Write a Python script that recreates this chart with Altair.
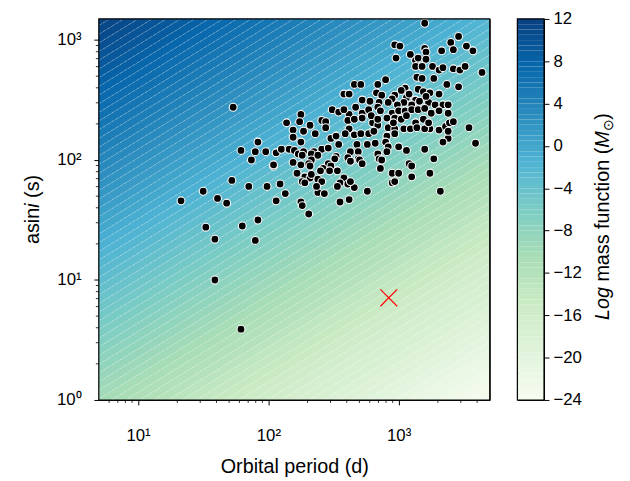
import altair as alt
import numpy as np
import pandas as pd

# log10 of orbital period (d) and log10 of a sin i (s)
log_period = [1.73,1.92,1.79,1.90,1.98,1.87,2.04,1.72,1.85,1.99,1.50,1.33,1.61,1.68,1.52,1.59,1.80,1.92,1.90,1.59,1.79,
 2.14,2.19,2.19,2.06,2.10,2.16,2.20,2.19,2.22,2.09,2.13,2.06,
 2.66,2.71,2.58,2.62,2.84,2.83,2.87,2.72,2.78,2.85,2.49,2.54,2.67,2.62,2.72,2.77,2.84,2.86,2.25,2.24,2.32,2.41,2.44,2.44,
 2.61,2.66,2.72,2.80,2.84,2.27,2.36,2.62,2.59,2.66,2.71,2.77,2.81,2.25,2.48,2.52,2.54,2.68,2.76,2.82,2.23,2.27,2.26,2.35,
 2.41,2.46,2.33,2.38,2.63,2.69,2.52,2.51,2.61,2.69,2.84,2.85,2.04,2.25,2.33,2.31,2.32,2.46,2.48,2.42,2.63,2.70,2.72,2.53,
 2.47,2.28,2.32,2.33,2.26,2.28,2.38,2.41,2.58,2.55,2.61,2.53,2.66,2.76,2.38,2.43,2.58,2.79,2.84,2.37,2.63,2.25,2.26,2.31,
 2.55,2.62,2.40,2.87,2.86,
 3.20,3.46,3.40,3.42,3.52,3.57,2.97,3.01,2.98,3.20,3.21,3.33,3.09,3.13,3.15,3.21,3.13,3.18,3.26,3.31,3.34,3.42,3.47,3.51,
 3.64,2.90,3.14,3.18,3.27,3.37,3.46,3.05,3.02,2.97,2.95,2.92,3.15,3.19,3.24,3.31,3.06,3.13,3.16,3.04,3.10,3.23,3.28,3.34,
 3.38,2.99,3.21,3.08,2.95,3.00,3.05,3.10,3.15,3.20,3.25,2.91,2.97,3.02,3.06,3.13,3.19,3.24,2.92,2.97,3.04,3.09,3.14,3.20,
 3.31,3.36,3.39,3.42,3.54,2.91,2.97,2.90,2.92,2.91,3.38,3.34,3.00,3.06,3.20,3.59,3.27,3.08,3.10,2.95,3.00,2.95,2.97,3.10,
 3.24,3.32,3.31,3.38,2.96,3.23,3.38]
log_asini = [2.44,2.15,2.08,2.07,2.07,2.00,1.95,1.83,1.78,1.78,1.74,1.66,1.68,1.64,1.44,1.34,1.45,1.50,1.33,1.00,0.59,
 2.31,2.25,2.19,2.06,2.09,2.09,2.08,1.98,1.89,1.80,1.72,1.66,
 2.63,2.63,2.55,2.55,2.63,2.56,2.54,2.50,2.49,2.48,2.42,2.40,2.44,2.38,2.39,2.42,2.44,2.41,2.38,2.32,2.29,2.33,2.32,2.27,
 2.33,2.34,2.35,2.31,2.29,2.24,2.22,2.26,2.22,2.21,2.22,2.22,2.24,2.15,2.18,2.20,2.13,2.13,2.13,2.14,2.05,2.07,2.04,2.07,
 2.09,2.10,2.05,2.04,2.07,2.07,2.03,2.01,2.02,2.01,2.05,2.01,1.96,1.96,2.00,1.97,1.95,1.97,1.95,1.93,1.99,2.00,1.97,1.91,
 1.91,1.86,1.85,1.88,1.82,1.81,1.84,1.82,1.85,1.81,1.80,1.78,1.77,1.74,1.73,1.72,2.42,2.37,2.34,1.78,1.82,1.65,1.62,1.55,
 1.65,1.67,1.91,2.00,1.93,
 3.14,3.03,2.98,2.92,2.95,2.91,2.96,2.95,2.85,2.93,2.90,2.91,2.88,2.83,2.85,2.84,2.78,2.78,2.78,2.75,2.77,2.76,2.75,2.78,
 2.73,2.67,2.69,2.68,2.68,2.63,2.61,2.60,2.58,2.54,2.51,2.48,2.59,2.57,2.56,2.55,2.52,2.50,2.49,2.48,2.46,2.48,2.46,2.46,
 2.46,2.46,2.53,2.55,2.39,2.41,2.41,2.42,2.42,2.43,2.39,2.35,2.35,2.34,2.37,2.31,2.34,2.26,2.27,2.26,2.26,2.26,2.27,2.26,
 2.25,2.28,2.31,2.32,2.27,2.20,2.22,2.15,2.11,2.07,2.18,2.15,2.11,2.08,2.09,2.14,2.01,1.97,1.95,1.89,1.89,1.81,1.82,1.86,
 1.89,1.74,2.41,2.39,2.31,2.31,2.24]

marker_period = [840.0]
marker_asini = [7.1]

x_major = [10, 100, 1000]
y_major = [1, 10, 100, 1000]
x_minor = [6, 7, 8, 9, 20, 30, 40, 50, 60, 70, 80, 90, 200, 300, 400, 500, 600, 700, 800, 900, 2000, 3000, 4000]
y_minor = [2, 3, 4, 5, 6, 7, 8, 9, 20, 30, 40, 50, 60, 70, 80, 90, 200, 300, 400, 500, 600, 700, 800, 900]
cbar_ticks = [-24, -20, -16, -12, -8, -4, 0, 4, 8, 12]
levels = [round(-24 + 0.5 * i, 1) for i in range(73)]
gnbu = ["#f7fcf0", "#e0f3db", "#ccebc5", "#a8ddb5", "#7bccc4", "#4eb3d3", "#2b8cbe", "#0868ac", "#084081"]

P_MIN, P_MAX = 5, 5000
X_MIN, X_MAX = 1, 1500
W, H = 396, 386
CBW = 27
FONT = "Liberation Sans"
TS = 20  # title font size

# natural log of the mass function constant: 4 pi^2 c^3 / (G Msun (86400 s/d)^2)
LN_C = np.log(4 * np.pi ** 2 * 2.99792458e8 ** 3 / (1.32712440018e20 * 86400.0 ** 2))


def bound(level, period):
    return float(np.exp((level - LN_C + 2 * np.log(period)) / 3.0))


band_rows = []
for k in range(len(levels) - 1):
    for p in (P_MIN, P_MAX):
        band_rows.append({"P": p, "lo": bound(levels[k], p), "hi": bound(levels[k + 1], p),
                          "mid": (levels[k] + levels[k + 1]) / 2, "band": k})
bands = pd.DataFrame(band_rows)

line_rows = []
for k, lv in enumerate(levels[1:-1]):
    for p in (P_MIN, P_MAX):
        line_rows.append({"P": p, "x": bound(lv, p), "lev": k})
lines = pd.DataFrame(line_rows)

pts = pd.DataFrame({"P": [10 ** v for v in log_period], "x": [10 ** v for v in log_asini]})
marker = pd.DataFrame({"P": marker_period, "x": marker_asini})
cb = pd.DataFrame({"lo": levels[:-1], "hi": levels[1:],
                   "mid": [(a + b) / 2 for a, b in zip(levels[:-1], levels[1:])]})
xm = pd.DataFrame({"v": x_minor})
ym = pd.DataFrame({"v": y_minor})
one = pd.DataFrame({"a": [0]})

color_scale = alt.Scale(domain=[-24 + 4.5 * i for i in range(9)], range=gnbu, interpolate="rgb")
xs = alt.Scale(type="log", domain=[P_MIN, P_MAX], nice=False)
ys = alt.Scale(type="log", domain=[X_MIN, X_MAX], nice=False)

sup = ("datum.value == 1 ? '10\u2070' : datum.value == 10 ? '10\u00b9' : "
       "datum.value == 100 ? '10\u00b2' : '10\u00b3'")
common = dict(grid=False, domain=False, tickSize=5, tickColor="black", tickWidth=1,
              labelColor="black", titleColor="black", labelFont=FONT, titleFont=FONT,
              titleFontWeight="normal", labelFontSize=17, titleFontSize=TS)
xaxis = alt.Axis(values=x_major, labelExpr=sup, title="Orbital period (d)",
                 labelPadding=23, titlePadding=13, **common)
yaxis = alt.Axis(values=y_major, labelExpr=sup, title="", labelPadding=13, **common)

area = alt.Chart(bands).mark_area(clip=True, orient="vertical", strokeWidth=0).encode(
    x=alt.X("P:Q", scale=xs, axis=xaxis),
    y=alt.Y("lo:Q", scale=ys, axis=yaxis),
    y2="hi:Q",
    color=alt.Color("mid:Q", scale=color_scale, legend=None),
    detail="band:N",
)

clines = alt.Chart(lines).mark_line(clip=True, color="white", strokeWidth=0.6, opacity=0.4,
                                    strokeDash=[3, 2]).encode(
    x=alt.X("P:Q", scale=xs, axis=xaxis),
    y=alt.Y("x:Q", scale=ys, axis=yaxis),
    detail="lev:N",
)

points = alt.Chart(pts).mark_circle(size=64, color="black", opacity=1, stroke="white",
                                    strokeWidth=1.1).encode(
    x=alt.X("P:Q", scale=xs, axis=xaxis),
    y=alt.Y("x:Q", scale=ys, axis=yaxis),
)

xmark = alt.Chart(marker).mark_point(shape="M-1,-1L1,1M-1,1L1,-1", size=289, filled=False,
                                     color="#ff0000", strokeWidth=1.2, opacity=1).encode(
    x=alt.X("P:Q", scale=xs, axis=xaxis),
    y=alt.Y("x:Q", scale=ys, axis=yaxis),
)

xminor = alt.Chart(xm).mark_rule(color="black", strokeWidth=0.8, clip=False).encode(
    x=alt.X("v:Q", scale=xs, axis=xaxis),
    y=alt.value(H), y2=alt.value(H + 3),
)
yminor = alt.Chart(ym).mark_rule(color="black", strokeWidth=0.8, clip=False).encode(
    y=alt.Y("v:Q", scale=ys, axis=yaxis),
    x=alt.value(0), x2=alt.value(-3),
)

frame = alt.Chart(one).mark_rect(fillOpacity=0, stroke="black", strokeWidth=1.2).encode(
    x=alt.value(0), x2=alt.value(W), y=alt.value(0), y2=alt.value(H))


def rot_text(text, xpos, ypos, italic=False, size=TS):
    kw = dict(angle=270, align="left", baseline="alphabetic", font=FONT, fontSize=size,
              color="black", text=text)
    if italic:
        kw["fontStyle"] = "italic"
    return alt.Chart(one).mark_text(**kw).encode(x=alt.value(xpos), y=alt.value(ypos))


# y-axis title "asini (s)" with an italic i, reading bottom to top
em = TS
y_start = H / 2 + 35
YTX = -61
ytitle = [
    rot_text("asin", YTX, y_start),
    rot_text("i", YTX, y_start - 1.834 * em, italic=True),
    rot_text("(s)", YTX, y_start - (1.834 + 0.222 + 0.278) * em),
]

main = alt.layer(area, clines, points, xmark, xminor, yminor, frame, *ytitle).properties(width=W, height=H)

cbar_rect = alt.Chart(cb).mark_rect().encode(
    y=alt.Y("lo:Q", scale=alt.Scale(domain=[-24, 12], nice=False, zero=False),
            axis=alt.Axis(orient="right", values=cbar_ticks, title="", labelPadding=4, **common)),
    y2="hi:Q",
    color=alt.Color("mid:Q", scale=color_scale, legend=None),
)
cbar_frame = alt.Chart(one).mark_rect(fillOpacity=0, stroke="black", strokeWidth=1.2).encode(
    x=alt.value(0), x2=alt.value(CBW), y=alt.value(0), y2=alt.value(H))

# colorbar title "Log mass function (M_sun)" with italic Log and M
cx = CBW + 66
c0 = H / 2 + 112
w_log = 1.668 * em
w_mid = 7.058 * em
w_m = 0.833 * em
w_sun = 0.84 * 14
ctitle = [
    rot_text("Log", cx, c0, italic=True),
    rot_text("mass function (", cx, c0 - w_log - 0.278 * em),
    rot_text("M", cx, c0 - w_log - w_mid, italic=True),
    rot_text("\u2299", cx + 4, c0 - w_log - w_mid - w_m, size=14),
    rot_text(")", cx, c0 - w_log - w_mid - w_m - w_sun),
]
cbar = alt.layer(cbar_rect, cbar_frame, *ctitle).properties(width=CBW, height=H)

chart = alt.hconcat(main, cbar, spacing=24).configure_view(
    stroke="black", strokeWidth=1
).properties(padding={"left": 14, "top": -2, "right": 5, "bottom": 0})

chart.save("out.html", embed_options={"renderer": "svg", "actions": False})
